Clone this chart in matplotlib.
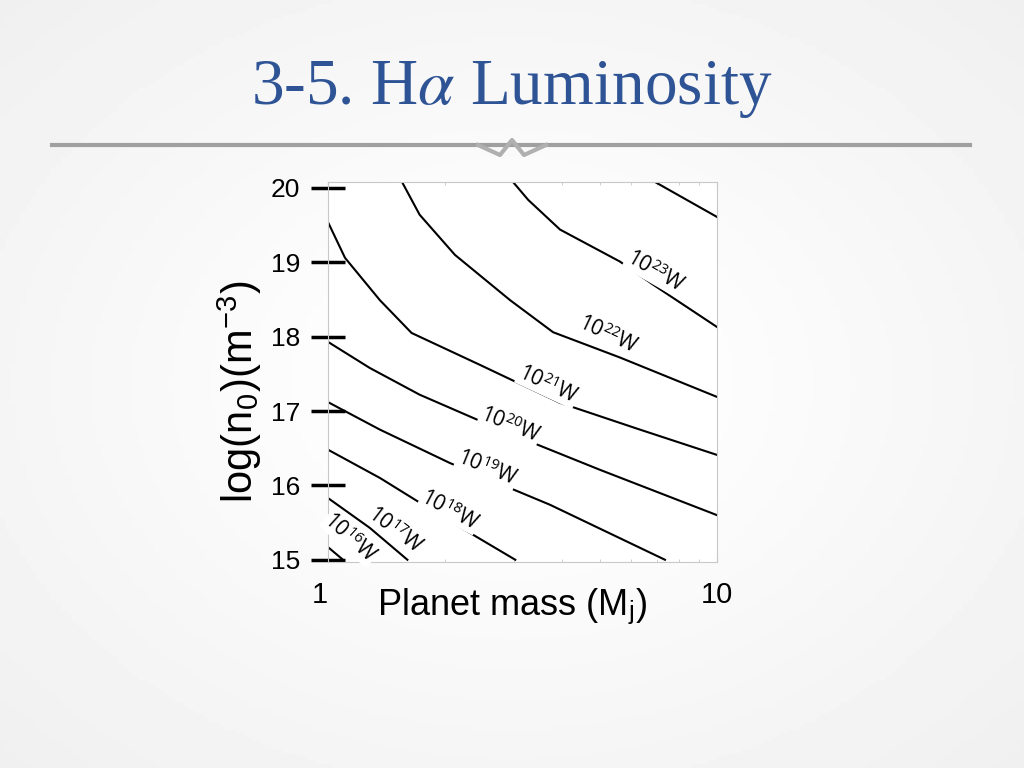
import numpy as np
import matplotlib
matplotlib.use("Agg")
import matplotlib.pyplot as plt
from matplotlib.ticker import NullFormatter, FixedLocator

plt.rcParams["mathtext.fontset"] = "stix"

# contour lines: planet mass (Mj) and log n0 (m^-3)
mass_24 = [6.93, 10.0]
logn_24 = [20.08, 19.61]
mass_23 = [2.99, 3.27, 3.95, 5.63, 6.85, 10.0]
logn_23 = [20.08, 19.84, 19.44, 19.01, 18.70, 18.13]
mass_22 = [1.55, 1.72, 2.12, 2.94, 3.79, 5.63, 10.0]
logn_22 = [20.08, 19.64, 19.10, 18.49, 18.06, 17.72, 17.19]
mass_21 = [1.0, 1.106, 1.36, 1.64, 2.46, 3.95, 6.34, 10.0]
logn_21 = [19.54, 19.06, 18.49, 18.05, 17.62, 17.11, 16.75, 16.41]
mass_20 = [1.0, 1.28, 1.72, 2.77, 5.0, 10.0]
logn_20 = [17.93, 17.58, 17.22, 16.75, 16.21, 15.60]
mass_19 = [1.0, 1.36, 2.06, 3.72, 7.35]
logn_19 = [17.12, 16.75, 16.30, 15.74, 15.0]
mass_18 = [1.0, 1.36, 1.94, 3.03]
logn_18 = [16.48, 16.10, 15.60, 15.0]
mass_17 = [1.0, 1.28, 1.60]
logn_17 = [15.83, 15.43, 15.0]
mass_16 = [1.0, 1.093]
logn_16 = [15.17, 15.0]

# label text, figure pixel position, rotation
label_exps = [23, 22, 21, 20, 19, 18, 17, 16]
label_px = [(655, 272), (608, 335), (548, 385), (510, 425), (487, 468), (450, 510), (395, 530), (350, 538)]
label_rot = [-30, -25, -25, -22, -22, -28, -37, -42]

W, H = 1024, 768
fig = plt.figure(figsize=(10.24, 7.68), dpi=100)

# soft background
bg = fig.add_axes([0, 0, 1, 1], zorder=-10)
yy, xx = np.mgrid[-1:1:200j, -1:1:200j]
bg.imshow(0.99 - 0.05 * np.clip(np.hypot(xx, yy) - 0.4, 0, None), cmap="gray", vmin=0, vmax=1,
          aspect="auto", extent=[0, 1, 0, 1])
bg.set_axis_off()

fig.text(0.5, 1 - 90 / H, r"3-5. H$\alpha$ Luminosity", ha="center", va="center",
         fontsize=47, color="#2f5496", family="Liberation Serif")
fig.add_artist(plt.Line2D([52 / W, 970 / W], [1 - 145 / H] * 2, color="#a0a0a0", lw=3))
fig.add_artist(plt.Line2D([478 / W, 500 / W, 512 / W, 524 / W, 546 / W],
                          [1 - 145 / H, 1 - 155 / H, 1 - 140 / H, 1 - 155 / H, 1 - 145 / H],
                          color="#b0b0b0", lw=3))

ax = fig.add_axes([328 / W, 1 - 562 / H, (717 - 328) / W, (562 - 182) / H])
ax.set_facecolor("white")
series = [(mass_24, logn_24), (mass_23, logn_23), (mass_22, logn_22), (mass_21, logn_21),
          (mass_20, logn_20), (mass_19, logn_19), (mass_18, logn_18), (mass_17, logn_17),
          (mass_16, logn_16)]
for m, n in series:
    ax.plot(m, n, color="black", lw=1.5)
ax.set_xscale("log")
ax.set_xlim(1, 10)
ax.set_ylim(14.97, 20.08)
for s in ax.spines.values():
    s.set_color("#c8c8c8")
ax.set_yticks([15, 16, 17, 18, 19, 20])
ax.tick_params(axis="y", which="major", direction="inout", length=24, width=2.5, color="black",
               labelsize=19, pad=8)
ax.tick_params(axis="x", which="both", direction="in", color="#c8c8c8", top=True, labelsize=21)
ax.xaxis.set_major_locator(FixedLocator([1, 10]))
ax.xaxis.set_minor_locator(FixedLocator([2, 3, 4, 5, 6, 7, 8, 9]))
ax.xaxis.set_minor_formatter(NullFormatter())
ax.set_xticklabels(["1", "10"])
for lab in ax.get_xticklabels() + ax.get_yticklabels():
    lab.set_family("Liberation Sans")
ax.tick_params(axis="x", pad=14)
ax.xaxis.get_ticklabels()[0].set_horizontalalignment("right")

fig.text(512 / W, 1 - 607 / H, r"Planet mass (M$_\mathregular{j}$)", ha="center", va="center",
         fontsize=26, family="Liberation Sans")
fig.text(240 / W, 1 - 392 / H, r"log(n$_\mathregular{0}$)(m$^\mathregular{-3}$)", ha="center",
         va="center", rotation=90, fontsize=30, family="Liberation Sans")

for e, (px, py), r in zip(label_exps, label_px, label_rot):
    fig.text(px / W, 1 - py / H, r"10$^{\mathregular{%d}}$W" % e, ha="center", va="center",
             rotation=r, fontsize=15, family="Open Sans",
             bbox=dict(facecolor="white", edgecolor="none", pad=0.5))

fig.savefig("out.png", dpi=100)
